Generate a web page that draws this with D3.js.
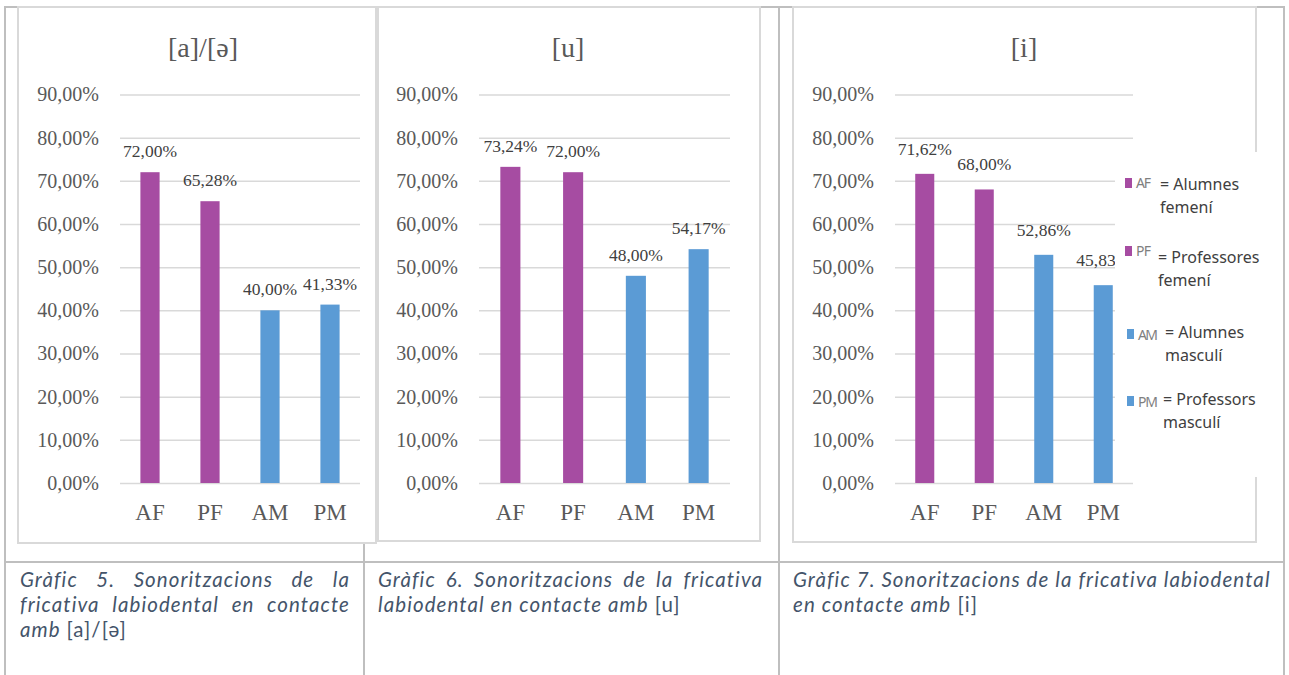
<!DOCTYPE html>
<html>
<head>
<meta charset="utf-8">
<script src="https://cdn.jsdelivr.net/npm/d3@7"></script>
<style>
  html, body { margin: 0; padding: 0; background: #fff; }
  svg { display: block; }
</style>
</head>
<body>
<svg id="fig" width="1289" height="675"></svg>
<script>
// ---- data ----
const categories = ["AF", "PF", "AM", "PM"];
const chartTitles = ["[a]/[ə]", "[u]", "[i]"];
const valuesA = [72.00, 65.28, 40.00, 41.33];   // [a]/[ə]
const valuesU = [73.24, 72.00, 48.00, 54.17];   // [u]
const valuesI = [71.62, 68.00, 52.86, 45.83];   // [i]
const yTicks = [0, 10, 20, 30, 40, 50, 60, 70, 80, 90];
const legendCodes = ["AF", "PF", "AM", "PM"];
const legendFirst = ["= Alumnes", "= Professores", "= Alumnes", "= Professors"];
const legendSecond = ["femení", "femení", "masculí", "masculí"];
const caption5 = [[["Gràfic 5. Sonoritzacions de la", true]],
                  [["fricativa labiodental en contacte", true]],
                  [["amb ", true], ["[a]/[ə]", false]]];
const caption6 = [[["Gràfic 6. Sonoritzacions de la fricativa", true]],
                  [["labiodental en contacte amb ", true], ["[u]", false]]];
const caption7 = [[["Gràfic 7. Sonoritzacions de la fricativa labiodental", true]],
                  [["en contacte amb", true], [" [i]", false]]];

// ---- styles ----
const PURPLE = "#A64CA2", BLUE = "#5B9BD5";
const barColor = c => (c.endsWith("F") ? PURPLE : BLUE);
const GRID = "#D9D9D9", AXIS_TXT = "#595959", LABEL_TXT = "#404040";
const SERIF = "'Liberation Serif', 'Times New Roman', serif";
const SANS = "'Noto Sans', 'Open Sans', sans-serif";
const CAP_FONT = "Lato, 'Noto Sans', sans-serif";
const CAP_SIZE = 20.5;
const CAPTION_COL = "#44546A";

const locale = d3.formatLocale({ decimal: ",", thousands: ".", grouping: [3], currency: ["", "€"] });
const pct = locale.format(".2%");

const svg = d3.select("#fig");

// ---- table frame ----
const table = svg.append("g").attr("stroke", "#BFBFBF").attr("stroke-width", 2).attr("fill", "none");
table.append("line").attr("x1", 4).attr("x2", 1285).attr("y1", 7).attr("y2", 7);
table.append("line").attr("x1", 4).attr("x2", 1285).attr("y1", 562).attr("y2", 562);
table.append("line").attr("x1", 5).attr("x2", 5).attr("y1", 6).attr("y2", 675);
table.append("line").attr("x1", 364).attr("x2", 364).attr("y1", 540).attr("y2", 675);
table.append("line").attr("x1", 779).attr("x2", 779).attr("y1", 6).attr("y2", 675);
table.append("line").attr("x1", 1284).attr("x2", 1284).attr("y1", 6).attr("y2", 675);

// ---- charts ----
const panels = [
  { values: valuesA, title: chartTitles[0], box: [18, 7, 376, 543], plot: [120, 360], titleX: 203, gap: 15 },
  { values: valuesU, title: chartTitles[1], box: [378, 7, 760, 541], plot: [479, 730], titleX: 568, gap: 15 },
  { values: valuesI, title: chartTitles[2], box: [793, 7, 1256, 542], plot: [895, 1133], titleX: 1024, gap: 19 }
];

const y = d3.scaleLinear().domain([0, 90]).range([483, 94.5]);

panels.forEach((p) => {
  const g = svg.append("g");
  const [bx0, by0, bx1, by1] = p.box;
  g.append("rect")
    .attr("x", bx0).attr("y", by0).attr("width", bx1 - bx0).attr("height", by1 - by0)
    .attr("fill", "#fff").attr("stroke", GRID).attr("stroke-width", 2);

  g.append("text")
    .attr("x", p.titleX).attr("y", 57)
    .attr("text-anchor", "middle")
    .attr("font-family", SERIF).attr("font-size", 28).attr("fill", AXIS_TXT)
    .text(p.title);

  const x = d3.scaleBand().domain(categories).range(p.plot)
    .paddingInner(0.68).paddingOuter(0.34);

  // y axis: gridlines + tick labels
  const yAxis = d3.axisLeft(y).tickValues(yTicks)
    .tickSize(-(p.plot[1] - p.plot[0])).tickPadding(21)
    .tickFormat(d => pct(d / 100));
  const ya = g.append("g").attr("transform", `translate(${p.plot[0]},0)`).call(yAxis);
  ya.select(".domain").remove();
  ya.selectAll(".tick line").attr("stroke", GRID).attr("stroke-width", 1.5);
  ya.selectAll(".tick text")
    .attr("font-family", SERIF).attr("font-size", 20).attr("fill", AXIS_TXT);

  // bars
  g.selectAll("rect.bar").data(p.values).join("rect")
    .attr("class", "bar")
    .attr("x", (d, i) => x(categories[i]))
    .attr("y", d => y(d))
    .attr("width", x.bandwidth())
    .attr("height", d => y(0) - y(d))
    .attr("fill", (d, i) => barColor(categories[i]));

  // value labels
  g.selectAll("text.val").data(p.values).join("text")
    .attr("class", "val")
    .attr("x", (d, i) => x(categories[i]) + x.bandwidth() / 2)
    .attr("y", d => y(d) - p.gap)
    .attr("text-anchor", "middle")
    .attr("font-family", SERIF).attr("font-size", 17.5).attr("fill", LABEL_TXT)
    .text(d => pct(d / 100));

  // category axis
  const xAxis = d3.axisBottom(x).tickSize(0).tickPadding(0);
  const xa = g.append("g").attr("transform", `translate(0,${y(0)})`).call(xAxis);
  xa.select(".domain").remove();
  xa.selectAll(".tick text")
    .attr("dy", 0).attr("y", 37)
    .attr("font-family", SERIF).attr("font-size", 23).attr("fill", AXIS_TXT);
});

// ---- legend (overlaps the [i] chart) ----
const lg = svg.append("g");
lg.append("rect").attr("x", 1115).attr("y", 152).attr("width", 143).attr("height", 325).attr("fill", "#fff");
const legendRows = [
  { my: 178, cx: 1125, tx: 1160, base: 190, codeBase: 188 },
  { my: 246, cx: 1125, tx: 1158, base: 263, codeBase: 256 },
  { my: 329, cx: 1127, tx: 1165, base: 338, codeBase: 340 },
  { my: 396, cx: 1127, tx: 1163, base: 405, codeBase: 407 }
];
legendCodes.forEach((code, i) => {
  const r = legendRows[i];
  lg.append("rect").attr("x", r.cx).attr("y", r.my).attr("width", 7).attr("height", 10)
    .attr("fill", barColor(code));
  lg.append("text").attr("x", r.cx + 11).attr("y", r.codeBase)
    .attr("font-family", SANS).attr("font-size", 14).attr("fill", "#7F7F7F")
    .attr("textLength", code === "AF" || code === "PF" ? 15 : 20).text(code);
  lg.append("text").attr("x", r.tx).attr("y", r.base)
    .attr("font-family", SANS).attr("font-size", 16).attr("fill", "#404040").text(legendFirst[i]);
  lg.append("text").attr("x", r.tx).attr("y", r.base + 23)
    .attr("font-family", SANS).attr("font-size", 16).attr("fill", "#404040").text(legendSecond[i]);
});

// ---- captions ----
// Letter spacing chosen so the longest caption line fills its cell (793 → 1270).
const probeText = caption7[0][0][0];
const probe = svg.append("text").attr("font-family", CAP_FONT).attr("font-size", CAP_SIZE)
  .attr("font-style", "italic").text(probeText);
const capTrack = Math.max(0, (477 - probe.node().getComputedTextLength()) / probeText.length);
probe.remove();

function caption(lines, x0, x1, justifyCount) {
  lines.forEach((parts, li) => {
    const t = svg.append("text")
      .attr("x", x0).attr("y", 587 + li * 25)
      .attr("font-family", CAP_FONT).attr("font-size", CAP_SIZE)
      .attr("letter-spacing", capTrack).attr("fill", CAPTION_COL);
    parts.forEach(([s, it]) => {
      t.append("tspan").attr("font-style", it ? "italic" : "normal").text(s);
    });
    if (li < justifyCount) {
      const natural = t.node().getComputedTextLength();
      const spaces = parts.map(q => q[0]).join("").split(" ").length - 1;
      if (spaces > 0) t.attr("word-spacing", Math.max(0, (x1 - x0 - natural) / spaces));
    }
  });
}
caption(caption5, 20, 350, 2);
caption(caption6, 378, 763, 1);
caption(caption7, 793, 1270, 1);
</script>
</body>
</html>
